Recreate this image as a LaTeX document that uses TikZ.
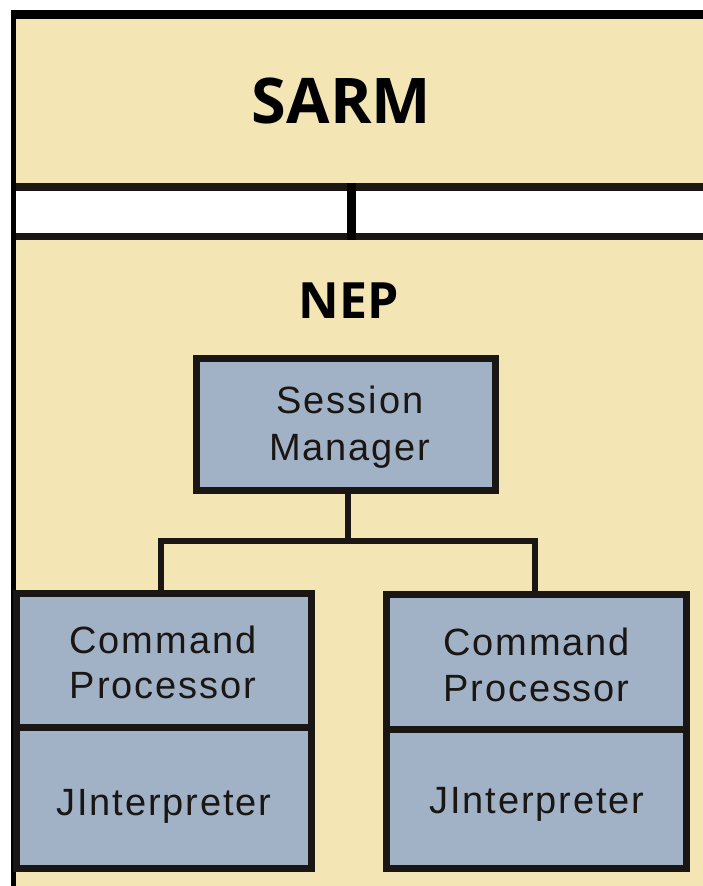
\documentclass[tikz,border=0pt]{standalone}
\usepackage{fontspec}
\setmainfont{Liberation Sans}
\newfontfamily\titlefont{Open Sans}
\newfontfamily\boxfont[LetterSpace=5]{Liberation Sans}
\definecolor{beige}{RGB}{244,230,180}
\definecolor{boxblue}{RGB}{162,178,198}
\definecolor{ink}{RGB}{25,22,20}
\tikzset{
  part/.style={draw=ink, line width=7pt, fill=boxblue, rectangle, inner sep=0pt},
  boxtext/.style={anchor=base, inner sep=0pt, font=\boxfont\fontsize{38}{45}\selectfont, text=ink},
  title/.style={anchor=base, inner sep=0pt, text=black},
  link/.style={draw=ink, line width=6.5pt}
}
\begin{document}
\begin{tikzpicture}[x=1pt,y=-1pt]
\useasboundingbox (0,0) rectangle (703,886);
\fill[white] (0,0) rectangle (703,886);
% background panel
\fill[beige] (13,14) rectangle (703,886);
\draw[black, line width=9pt] (11,14.5) -- (703,14.5);
\draw[black, line width=5pt] (13.5,10) -- (13.5,886);
% white bar
\fill[white] (16,187) rectangle (703,236.5);
\draw[ink, line width=8pt] (16,187) -- (703,187);
\draw[ink, line width=7pt] (16,236.5) -- (703,236.5);
\draw[black, line width=9pt] (351.5,183) -- (351.5,240);
% titles
\node[title, font=\titlefont\bfseries\fontsize{63}{70}\selectfont] (sarm) at (341.5,123) {SARM};
\node[title, font=\titlefont\bfseries\fontsize{50}{56}\selectfont] (nep) at (349,318) {NEP};
% session manager
\node[part, minimum width=298.5pt, minimum height=131.5pt] (sm) at (345.75,424.25) {};
\node[boxtext] (smA) at (350,413) {Session};
\node[boxtext] (smB) at (350,460) {Manager};
% left stack
\node[part, minimum width=295pt, minimum height=133.5pt] (cp1) at (164,660.25) {};
\node[part, minimum width=295pt, minimum height=141.5pt] (ji1) at (164,797.75) {};
\node[boxtext] (cp1A) at (163,653) {Command};
\node[boxtext] (cp1B) at (163,698) {Processor};
\node[boxtext] (ji1A) at (164,815) {JInterpreter};
% right stack
\node[part, minimum width=300pt, minimum height=135pt] (cp2) at (536.5,661.5) {};
\node[part, minimum width=300pt, minimum height=139.5pt] (ji2) at (536.5,798.75) {};
\node[boxtext] (cp2A) at (536.5,655) {Command};
\node[boxtext] (cp2B) at (536.5,701) {Processor};
\node[boxtext] (ji2A) at (537,813) {JInterpreter};
% connectors
\coordinate (j) at (348,541);
\coordinate (jl) at (161,541);
\coordinate (jr) at (535,541);
\draw[link] (sm.south -| j) -- (j);
\draw[link, line cap=rect] (jl) -- (jr);
\draw[link] (jl) -- (cp1.north -| jl);
\draw[link] (jr) -- (cp2.north -| jr);
\end{tikzpicture}
\end{document}
